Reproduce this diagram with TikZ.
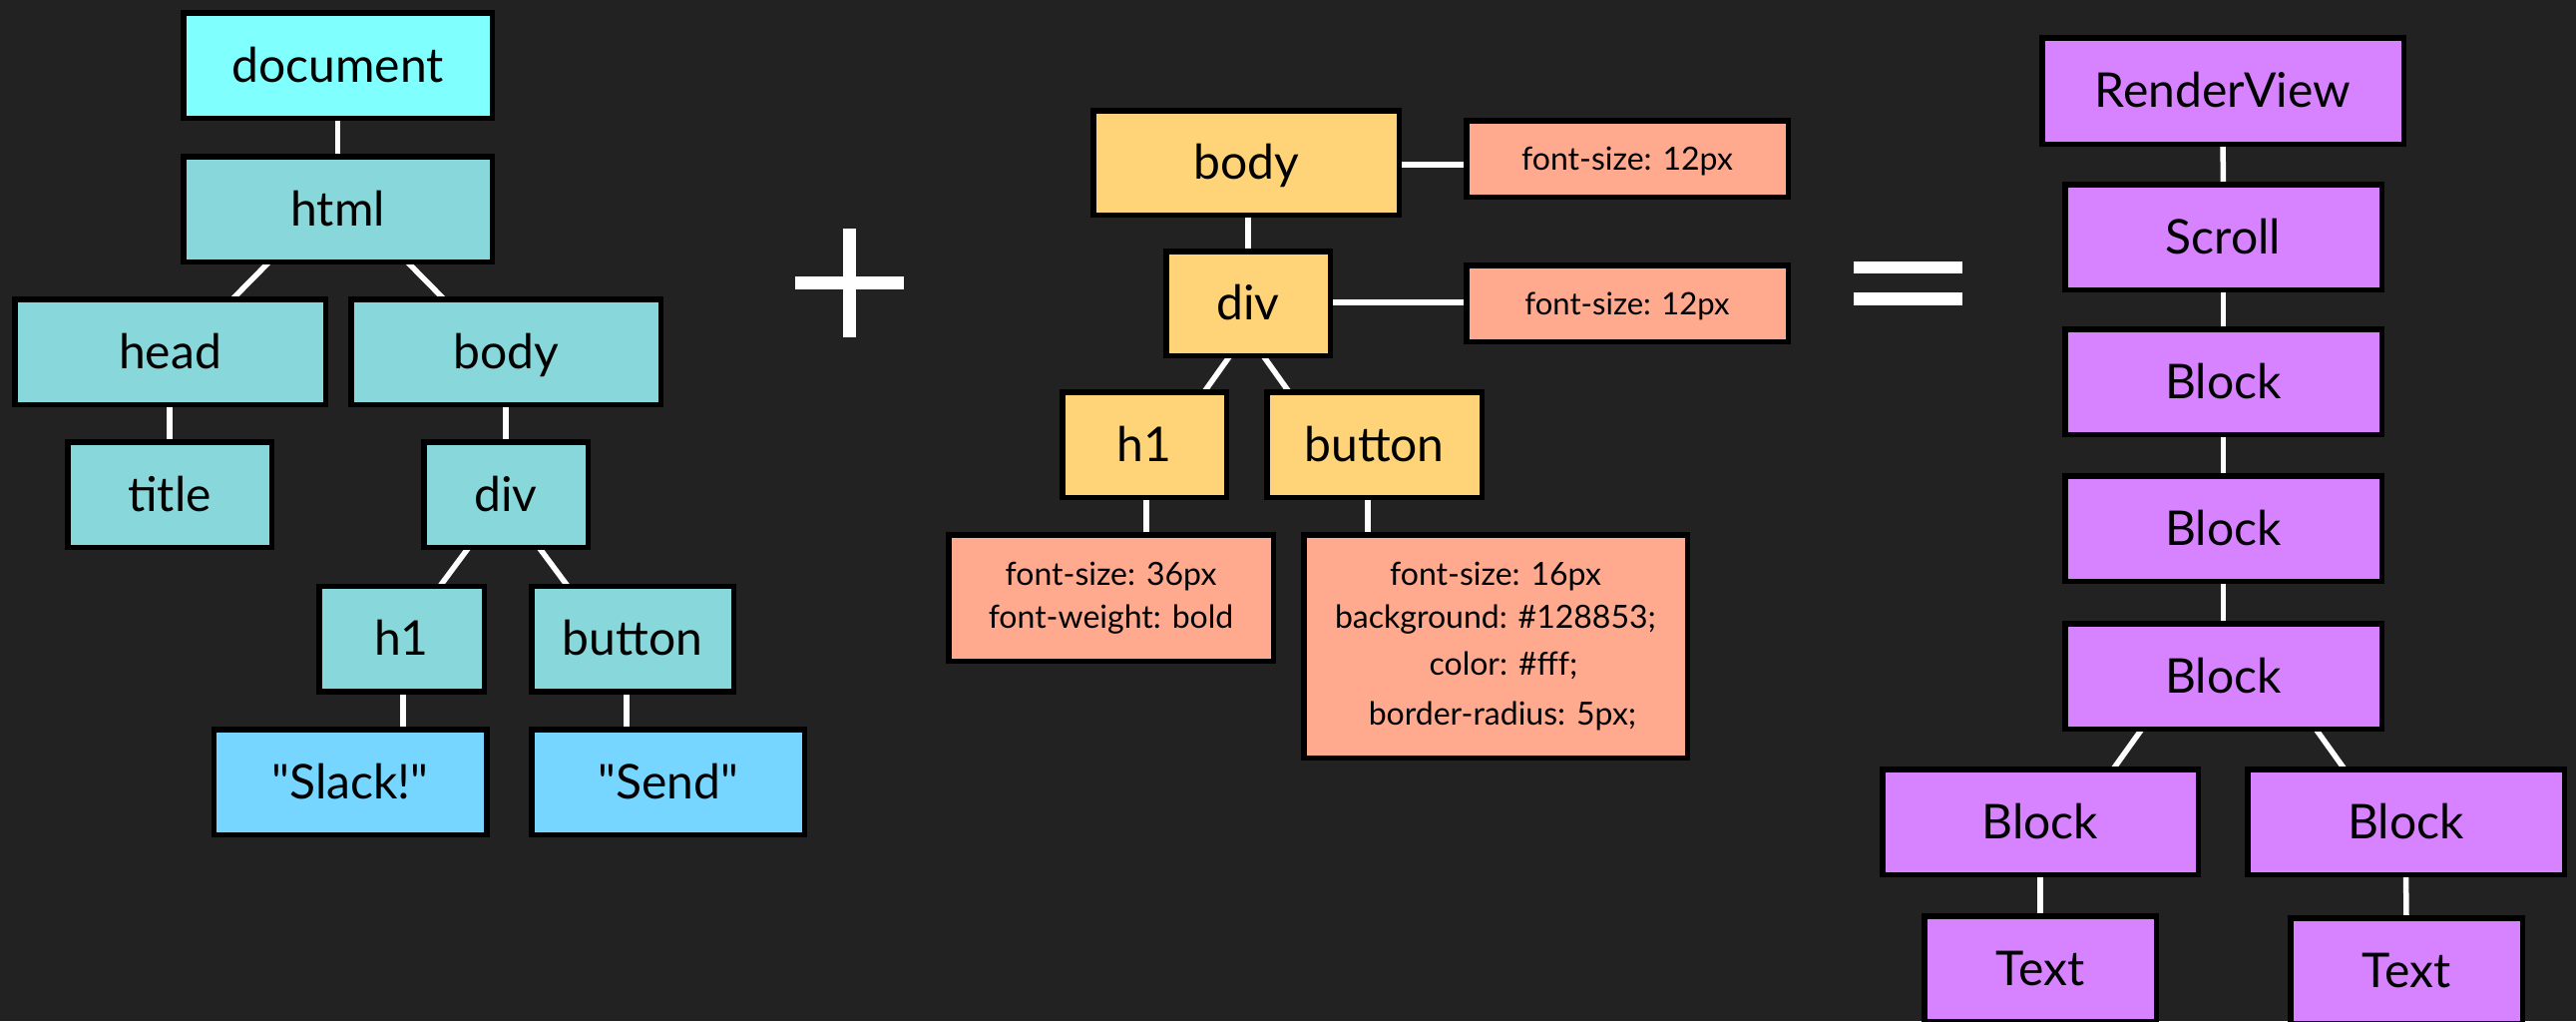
\documentclass[tikz,border=0pt]{standalone}
\usepackage{fontspec}
\setmainfont{Lato}
\newfontfamily\plainlato{Lato}[Ligatures=TeXOff]
\usetikzlibrary{calc}
\pgfdeclarelayer{back}
\pgfdeclarelayer{bg}
\pgfsetlayers{back,bg,main}
\definecolor{bgc}{HTML}{222222}
\definecolor{docc}{HTML}{80FFFF}
\definecolor{htmlc}{HTML}{88D8DB}
\definecolor{txtc}{HTML}{76D6FF}
\definecolor{yel}{HTML}{FFD479}
\definecolor{salmon}{HTML}{FFA98F}
\definecolor{purp}{HTML}{D783FF}
\tikzset{
  bx/.style={draw=black, line width=5.5pt, inner sep=0pt, outer sep=0pt,
    font=\fontsize{48}{56}\selectfont, text height=37pt, text depth=4pt},
  sz/.style 2 args={minimum width=#1pt, minimum height=#2pt},
  strbox/.style={bx, fill=txtc, font=\plainlato\fontsize{48}{56}\selectfont},
  cssone/.style={bx, fill=salmon, font=\fontsize{32}{43}\selectfont,
    text height=25pt, text depth=3pt},
  cssmulti/.style={draw=black, line width=5.5pt, inner sep=0pt, outer sep=0pt,
    fill=salmon, font=\fontsize{32}{43}\selectfont, align=center},
  wire/.style={draw=white, line width=5.5pt},
  sign/.style={fill=white},
}
\begin{document}
\begin{tikzpicture}[x=1pt,y=-1pt]
\useasboundingbox (0,0) rectangle (2582,1023);
\begin{pgfonlayer}{back}
\fill[bgc] (0,0) rectangle (2582,1023);
\end{pgfonlayer}

% ---------- left tree (DOM) ----------
\node[bx, sz={309.5}{105.5}, fill=docc] (doc) at (338.5,65.5) {document};
\node[bx, sz={309.5}{105.5}, fill=htmlc] (html) at (338.5,209.5) {html};
\node[bx, sz={311.5}{105.5}, fill=htmlc] (head) at (170.5,352.5) {head};
\node[bx, sz={310.5}{105.5}, fill=htmlc] (lbody) at (507,352.5) {body};
\node[bx, sz={204.5}{105.5}, fill=htmlc] (title) at (170,495.5) {title};
\node[bx, sz={164.5}{105.5}, fill=htmlc] (ldiv) at (507,495.5) {div};
\node[bx, sz={165.5}{105.5}, fill=htmlc] (lh1) at (402.5,640) {h1};
\node[bx, sz={202.5}{105.5}, fill=htmlc] (lbtn) at (634,640) {button};
\node[strbox, sz={273.5}{105.5}] (slack) at (351,783.5) {"Slack!"};
\node[strbox, sz={273.5}{105.5}] (send) at (669.5,783.5) {"Send"};

% ---------- middle tree (CSSOM) ----------
\node[bx, sz={306.5}{104.5}, fill=yel] (mbody) at (1249,163) {body};
\node[cssone, sz={322.5}{76.5}] (css1) at (1631,159) {font-size: 12px};
\node[bx, sz={164.5}{104.5}, fill=yel] (mdiv) at (1251,304) {div};
\node[cssone, sz={322.5}{76.5}, font=\fontsize{31}{43}\selectfont] (css2) at (1631,304) {font-size: 12px};
\node[bx, sz={164.5}{105.5}, fill=yel] (mh1) at (1147,445.5) {h1};
\node[bx, sz={215.5}{105.5}, fill=yel] (mbtn) at (1377.5,445.5) {button};
\node[cssmulti, sz={325.5}{126.5}] (cssh1) at (1113.5,599) {font-size: 36px\\font-weight: bold};
\node[cssmulti, sz={384.5}{223.5}] (cssbtn) at (1499,647.5)
  {font-size: 16px\\background: \#128853;\\[4pt]\hspace*{16pt}color: \#fff;\\[7pt]\hspace*{14pt}border-radius: 5px;};

% ---------- right tree (render tree) ----------
\node[bx, sz={362.5}{106.5}, fill=purp] (rv) at (2228,91) {RenderView};
\node[bx, sz={317.5}{105.5}, fill=purp] (scroll) at (2228.5,237.5) {Scroll};
\node[bx, sz={317.5}{105.5}, fill=purp] (blk1) at (2228.5,382.5) {Block};
\node[bx, sz={317.5}{105.5}, fill=purp] (blk2) at (2228.5,529.5) {Block};
\node[bx, sz={317.5}{105.5}, fill=purp] (blk3) at (2228.5,677.5) {Block};
\node[bx, sz={316.5}{105.5}, fill=purp] (blkL) at (2045,823.5) {Block};
\node[bx, sz={317.5}{105.5}, fill=purp] (blkR) at (2411.5,823.5) {Block};
\node[bx, sz={232.5}{105.5}, fill=purp] (txtL) at (2045,970.5) {Text};
\node[bx, sz={232.5}{105.5}, fill=purp] (txtR) at (2412,972.5) {Text};

% ---------- plus and equals ----------
\fill[sign] (845,229) rectangle (858,338);
\fill[sign] (797,277) rectangle (906,290);
\fill[sign] (1858,262) rectangle (1967,274);
\fill[sign] (1858,293) rectangle (1967,306);

% ---------- connectors ----------
\begin{pgfonlayer}{bg}
\draw[wire] (doc.south) -- (html.north);
\draw[wire] ($(html.south)+(-68.5,0)$) -- ($(head.north)+(62.5,0)$);
\draw[wire] ($(html.south)+(69.5,0)$) -- ($(lbody.north)+(-62,0)$);
\draw[wire] (title.north |- head.south) -- (title.north);
\draw[wire] (lbody.south) -- (ldiv.north);
\draw[wire] ($(ldiv.south)+(-37,0)$) -- ($(lh1.north)+(38.5,0)$);
\draw[wire] ($(ldiv.south)+(33,0)$) -- ($(lbtn.north)+(-65,0)$);
\draw[wire] ($(lh1.south)+(1.5,0)$) -- ($(lh1.south |- slack.north)+(1.5,0)$);
\draw[wire] ($(lbtn.south)+(-6,0)$) -- ($(lbtn.south |- send.north)+(-6,0)$);

\draw[wire] (mdiv.north |- mbody.south) -- (mdiv.north);
\draw[wire] ($(mbody.east)+(0,2)$) -- ($(css1.west)+(0,6)$);
\draw[wire] ($(mdiv.east)+(0,-1)$) -- ($(css2.west)+(0,-1)$);
\draw[wire] ($(mdiv.south)+(-18,0)$) -- ($(mh1.north)+(60,0)$);
\draw[wire] ($(mdiv.south)+(15,0)$) -- ($(mbtn.north)+(-85.5,0)$);
\draw[wire] ($(mh1.south)+(2,0)$) -- ($(mh1.south |- cssh1.north)+(2,0)$);
\draw[wire] ($(mbtn.south)+(-6.5,0)$) -- ($(mbtn.south |- cssbtn.north)+(-6.5,0)$);

\draw[wire] (rv.south) -- (scroll.north);
\draw[wire] (scroll.south) -- (blk1.north);
\draw[wire] (blk1.south) -- (blk2.north);
\draw[wire] (blk2.south) -- (blk3.north);
\draw[wire] ($(blk3.south)+(-81.5,0)$) -- ($(blkL.north)+(73,0)$);
\draw[wire] ($(blk3.south)+(92.5,0)$) -- ($(blkR.north)+(-61.5,0)$);
\draw[wire] (blkL.south) -- (txtL.north);
\draw[wire] (blkR.south) -- (txtR.north);
\end{pgfonlayer}
\end{tikzpicture}
\end{document}
